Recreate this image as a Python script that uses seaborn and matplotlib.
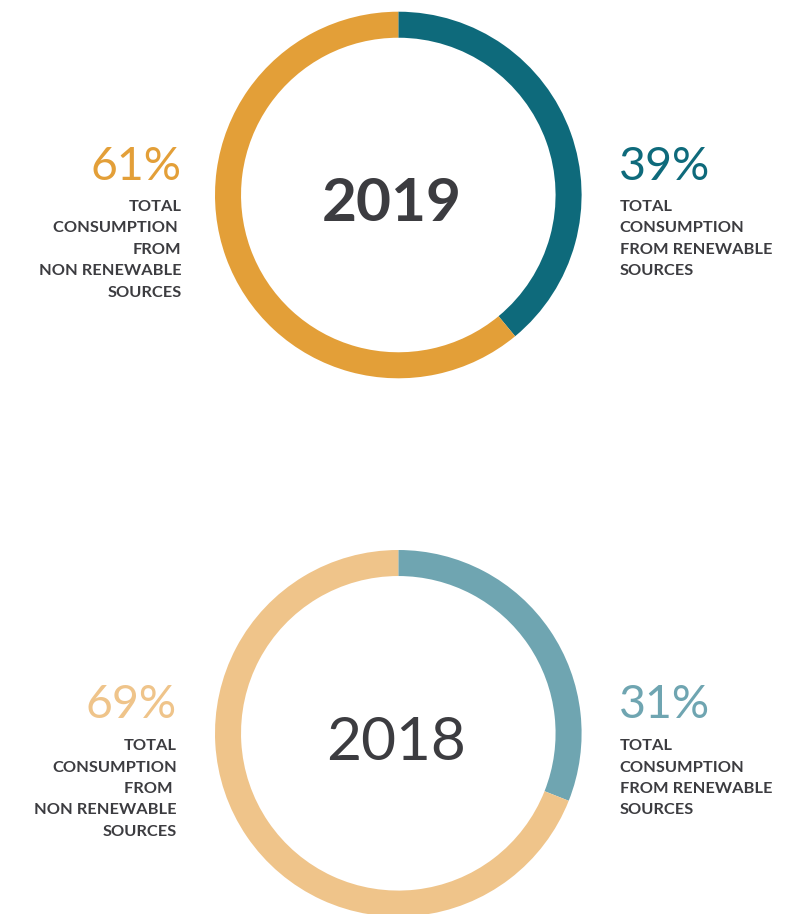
import matplotlib
matplotlib.use("Agg")
import matplotlib.pyplot as plt
import seaborn as sns

sns.set_theme(style="white")
plt.rcParams["font.family"] = ["Lato", "DejaVu Sans"]

# Energy consumption split by source, per year
years = ["2019", "2018"]
renewable = [39, 31]
non_renewable = [61, 69]
renewable_colors = ["#0e6a7b", "#6fa5b1"]
non_renewable_colors = ["#e39f38", "#efc48a"]
year_weights = ["bold", "normal"]

left_lines = [
    ["TOTAL", "CONSUMPTION ", "FROM", "NON RENEWABLE", "SOURCES"],
    ["TOTAL", "CONSUMPTION", "FROM ", "NON RENEWABLE", "SOURCES"],
]
right_lines = ["TOTAL", "CONSUMPTION", "FROM RENEWABLE", "SOURCES"]

W, H = 810, 914
DPI = 100
fig = plt.figure(figsize=(W / DPI, H / DPI), dpi=DPI)
fig.patch.set_facecolor("white")

TEXT = "#3c3c40"
R_PX = 183.3
RING = 0.142

# per-donut layout (pixel coordinates, origin top-left)
centers = [(398.3, 195.0), (398.3, 733.3)]
pct_baselines = [180.5, 717.5]
label_baselines = [210.7, 750.0]
left_edges = [181.5, 177.0]
year_positions = [(392.0, 221.0), (396.0, 759.5)]


def fx(x):
    return x / W


def fy(y):
    return 1 - y / H


for i, year in enumerate(years):
    cx, cy = centers[i]
    ax = fig.add_axes([fx(cx - R_PX), fy(cy + R_PX), 2 * R_PX / W, 2 * R_PX / H])
    ax.pie(
        [renewable[i], non_renewable[i]],
        colors=[renewable_colors[i], non_renewable_colors[i]],
        startangle=90,
        counterclock=False,
        radius=1.0,
        wedgeprops=dict(width=RING, edgecolor="none", linewidth=0),
    )
    ax.set_xlim(-1, 1)
    ax.set_ylim(-1, 1)
    ax.set_aspect("equal")
    ax.axis("off")

    # year in the middle
    yx, yy = year_positions[i]
    fig.text(fx(yx), fy(yy), year, ha="center", va="baseline",
             fontsize=43.5, fontweight=year_weights[i], color=TEXT)

    # non renewable share on the left
    fig.text(fx(left_edges[i]), fy(pct_baselines[i]), f"{non_renewable[i]}%",
             ha="right", va="baseline", fontsize=33.5, fontweight="normal",
             color=non_renewable_colors[i])
    for k, line in enumerate(left_lines[i]):
        fig.text(fx(left_edges[i]), fy(label_baselines[i] + 21.5 * k), line,
                 ha="right", va="baseline", fontsize=11.8, fontweight="bold",
                 color=TEXT)

    # renewable share on the right
    fig.text(fx(619), fy(pct_baselines[i]), f"{renewable[i]}%",
             ha="left", va="baseline", fontsize=33.5, fontweight="normal",
             color=renewable_colors[i])
    for k, line in enumerate(right_lines):
        fig.text(fx(619.5), fy(label_baselines[i] + 21.5 * k), line,
                 ha="left", va="baseline", fontsize=11.8, fontweight="bold",
                 color=TEXT)

fig.savefig("out.png", dpi=DPI, facecolor="white")
